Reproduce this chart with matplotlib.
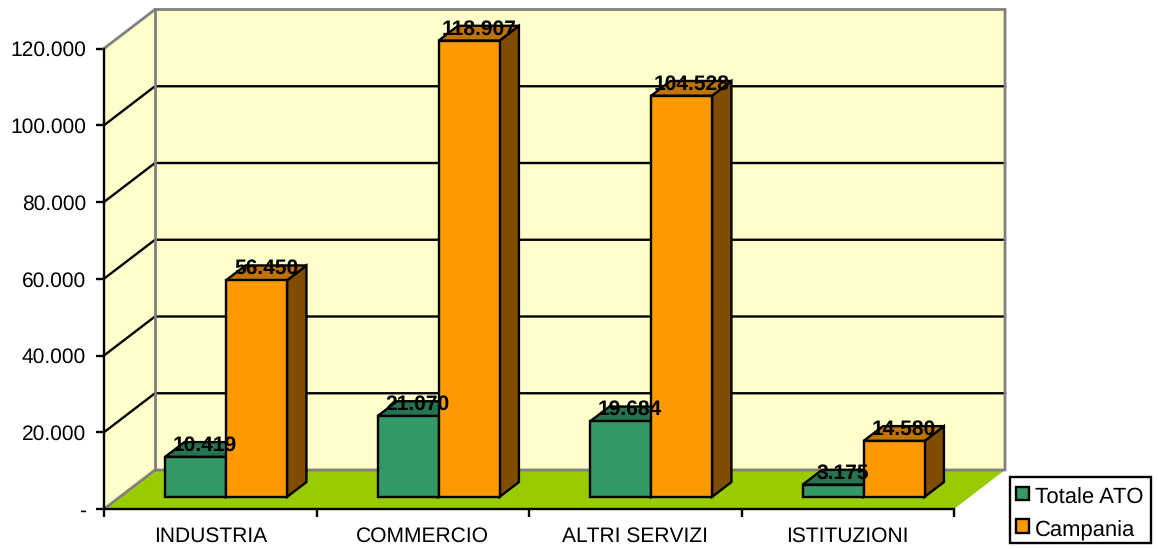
import matplotlib
matplotlib.use("Agg")
import matplotlib.pyplot as plt
from matplotlib.legend_handler import HandlerPatch
from matplotlib.patches import Patch, Polygon, Rectangle

plt.rcParams["font.family"] = ["Liberation Sans", "DejaVu Sans"]
plt.rcParams["text.hinting"] = "no_hinting"
plt.rcParams["text.hinting_factor"] = 1

categories = ["INDUSTRIA", "COMMERCIO", "ALTRI SERVIZI", "ISTITUZIONI"]
totale_ato = [10419, 21070, 19684, 3175]
campania = [56450, 118907, 104528, 14580]
y_ticks = [0, 20000, 40000, 60000, 80000, 100000, 120000]

W, H = 1158, 549
# front plane of the 3D box, in pixels
LEFT, RIGHT, BOTTOM, TOP = 104, 954, 509, 48.5
YMAX = 120000
FS = 15.4
LEGEND_FS = 15.7
LW = 1.7

fig = plt.figure(figsize=(W / 100, H / 100), dpi=100)
ax = fig.add_axes([LEFT / W, 1 - BOTTOM / H, (RIGHT - LEFT) / W, (BOTTOM - TOP) / H])
ax.set_xlim(0, len(categories))
ax.set_ylim(0, YMAX)
ax.patch.set_visible(False)

# depth of the box expressed in data units
depth_x = 51 / ((RIGHT - LEFT) / len(categories))
depth_y = 39 / (BOTTOM - TOP) * YMAX


def p(x, y, d=0.0):
    # project (x, y) at depth d (0 front, 1 back)
    return (x + d * depth_x, y + d * depth_y)


def poly(points, color, edge, lw=LW, z=1):
    ax.add_patch(Polygon(points, closed=True, facecolor=color, edgecolor=edge,
                         linewidth=lw, zorder=z, clip_on=False, joinstyle="miter"))


n = len(categories)
# walls and floor
poly([p(0, 0), p(0, 0, 1), p(0, YMAX, 1), p(0, YMAX)], "#FFFFCC", "none", z=1)
poly([p(0, 0, 1), p(n, 0, 1), p(n, YMAX, 1), p(0, YMAX, 1)], "#FFFFCC", "none", z=1)
poly([p(0, 0), p(n, 0), p(n, 0, 1), p(0, 0, 1)], "#99CC00", "none", z=1)

# gridlines
for v in y_ticks[1:-1]:
    ax.plot(*zip(p(0, v), p(0, v, 1), p(n, v, 1)), color="black", lw=LW, zorder=2, clip_on=False)
ax.plot(*zip(p(0, 0), p(0, 0, 1), p(n, 0, 1), p(n, YMAX, 1), p(0, YMAX, 1), p(0, YMAX)),
        color="#808080", lw=2, zorder=2, clip_on=False, solid_joinstyle="miter")
ax.plot(*zip(p(0, 0, 1), p(0, YMAX, 1)), color="#808080", lw=2, zorder=2, clip_on=False)


def bar3d(x0, x1, h, front, top, side, z):
    d0, d1 = 0.31, 0.69
    poly([p(x1, 0, d0), p(x1, 0, d1), p(x1, h, d1), p(x1, h, d0)], side, "black", z=z)
    poly([p(x0, h, d0), p(x1, h, d0), p(x1, h, d1), p(x0, h, d1)], top, "black", z=z)
    poly([p(x0, 0, d0), p(x1, 0, d0), p(x1, h, d0), p(x0, h, d0)], front, "black", z=z)


bar_w = 0.287
labels = []
for i in range(n):
    c = i + 0.5
    bar3d(c - bar_w, c, totale_ato[i], "#339966", "#267350", "#1A4D33", 3 + 2 * i)
    bar3d(c, c + bar_w, campania[i], "#FF9900", "#BF7300", "#804D00", 4 + 2 * i)
    labels.append((c - bar_w / 2, totale_ato[i]))
    labels.append((c + bar_w / 2, campania[i]))

for x, v in labels:
    ax.annotate(f"{v:,}".replace(",", "."), xy=p(x, v, 0.5), xytext=(0, 3),
                textcoords="offset points", ha="center", va="center",
                fontsize=FS, fontweight="bold", color="black", zorder=30, annotation_clip=False)

# axes
for s in ["top", "right"]:
    ax.spines[s].set_visible(False)
for s in ["left", "bottom"]:
    ax.spines[s].set_linewidth(LW)
    ax.spines[s].set_zorder(2.5)
ax.set_yticks(y_ticks)
ax.set_yticklabels(["-" if v == 0 else f"{v:,}".replace(",", ".") for v in y_ticks], fontsize=FS)
ax.tick_params(axis="y", length=6, width=LW, pad=7)
ax.set_xticks(range(n + 1))
ax.set_xticklabels([])
ax.tick_params(axis="x", length=5.5, width=LW)
ax.set_xticks([i + 0.5 for i in range(n)], categories, minor=True, fontsize=FS)
ax.tick_params(axis="x", which="minor", length=0, pad=13)


def raised_box(legend, orig_handle, xdescent, ydescent, width, height, fontsize):
    # legend swatch sits a little above the text centre
    return Rectangle((-xdescent, -ydescent + 2), width, height)


handles = [Patch(facecolor="#339966", edgecolor="black", linewidth=LW, label="Totale ATO"),
           Patch(facecolor="#FF9900", edgecolor="black", linewidth=LW, label="Campania")]
fig.add_artist(Rectangle((1010 / W, 1 - 543 / H), 141 / W, 66 / H, transform=fig.transFigure,
                         facecolor="white", edgecolor="black", linewidth=LW))
leg = fig.legend(handles=handles, loc="lower left",
                 bbox_to_anchor=(1016 / W, 1 - 541 / H),
                 handler_map={Patch: HandlerPatch(patch_func=raised_box)},
                 fontsize=LEGEND_FS, frameon=False,
                 handlelength=0.58, handleheight=0.58, handletextpad=0.28, labelspacing=0.55,
                 borderpad=0, borderaxespad=0)

fig.savefig("out.png", dpi=100)
